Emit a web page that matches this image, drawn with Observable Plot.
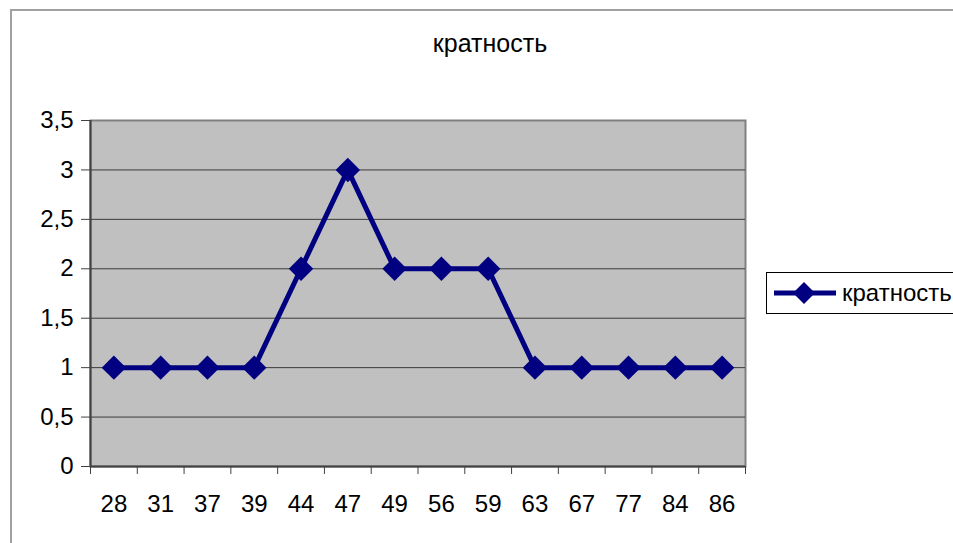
<!DOCTYPE html>
<html>
<head>
<meta charset="utf-8">
<script src="https://cdn.jsdelivr.net/npm/d3@7"></script>
<script src="https://cdn.jsdelivr.net/npm/@observablehq/plot@0.6"></script>
<style>
  html, body { margin: 0; padding: 0; background: #fff; }
  #wrap { position: relative; width: 953px; height: 543px; overflow: hidden; font-family: "Liberation Sans", Arial, sans-serif; }
  #frame { position: absolute; left: 10px; top: 9px; width: 1000px; height: 600px; border: 2px solid #a0a0a0; box-sizing: border-box; }
  #title { position: absolute; left: 0; width: 980px; top: 29px; text-align: center; font-size: 25px; color: #000; }
  #legend { position: absolute; left: 766px; top: 272px; width: 220px; height: 42px; border: 1px solid #000; box-sizing: border-box; background: #fff; display: flex; align-items: center; }
  #legend span { font-size: 24px; color: #000; margin-left: 0px; }
  #chart { position: absolute; left: 0; top: 0; }
</style>
</head>
<body>
<div id="wrap">
  <div id="frame"></div>
  <div id="title"></div>
  <div id="chart"></div>
  <div id="legend"></div>
</div>
<script>
const title = "кратность";
const seriesName = "кратность";
const categories = ["28", "31", "37", "39", "44", "47", "49", "56", "59", "63", "67", "77", "84", "86"];
const values = [1, 1, 1, 1, 2, 3, 2, 2, 2, 1, 1, 1, 1, 1];
const yTicks = [0, 0.5, 1, 1.5, 2, 2.5, 3, 3.5];

const data = categories.map((c, i) => ({i, c, v: values[i]}));
const idx = categories.map((c, i) => i);
const bounds = d3.range(-0.5, categories.length, 1);
const n = categories.length;

document.getElementById("title").textContent = title;

const lineColor = "#000080";

const plot = Plot.plot({
  width: 953,
  height: 543,
  marginLeft: 90,
  marginRight: 208,
  marginTop: 120,
  marginBottom: 77,
  style: {background: "transparent", fontFamily: "'Liberation Sans', Arial, sans-serif", color: "#000"},
  x: {type: "linear", domain: [-0.5, n - 0.5]},
  y: {type: "linear", domain: [0, 3.5]},
  marks: [
    Plot.frame({fill: "#c0c0c0", stroke: "#808080", strokeWidth: 2}),
    Plot.ruleY(yTicks.slice(1, -1), {stroke: "#3a3a3a", strokeWidth: 1}),
    Plot.ruleX([-0.5], {stroke: "#404040", strokeWidth: 2}),
    Plot.ruleY([0], {stroke: "#404040", strokeWidth: 2}),
    Plot.axisY({ticks: yTicks, tickSize: 9, tickPadding: 8, fontSize: 24, stroke: "#404040",
      tickFormat: d => String(d).replace(".", ","), label: null}),
    Plot.axisX({ticks: bounds, tickSize: 8, tickFormat: () => "", stroke: "#404040", label: null}),
    Plot.axisX({ticks: idx, tickSize: 0, tickPadding: 28, fontSize: 24,
      tickFormat: i => categories[i], label: null}),
    Plot.line(data, {x: "i", y: "v", stroke: lineColor, strokeWidth: 5, strokeLinejoin: "miter"}),
    Plot.dot(data, {x: "i", y: "v", symbol: "diamond2", r: 11, fill: lineColor, stroke: "none"})
  ]
});
document.getElementById("chart").appendChild(plot);

// legend
const leg = document.getElementById("legend");
leg.innerHTML = `<svg width="68" height="22" style="margin-left:7px">
  <line x1="0" y1="11" x2="62" y2="11" stroke="${lineColor}" stroke-width="5"/>
  <path d="M30,0 L41,11 L30,22 L19,11 Z" fill="${lineColor}"/></svg><span></span>`;
leg.querySelector("span").textContent = seriesName;
</script>
</body>
</html>
